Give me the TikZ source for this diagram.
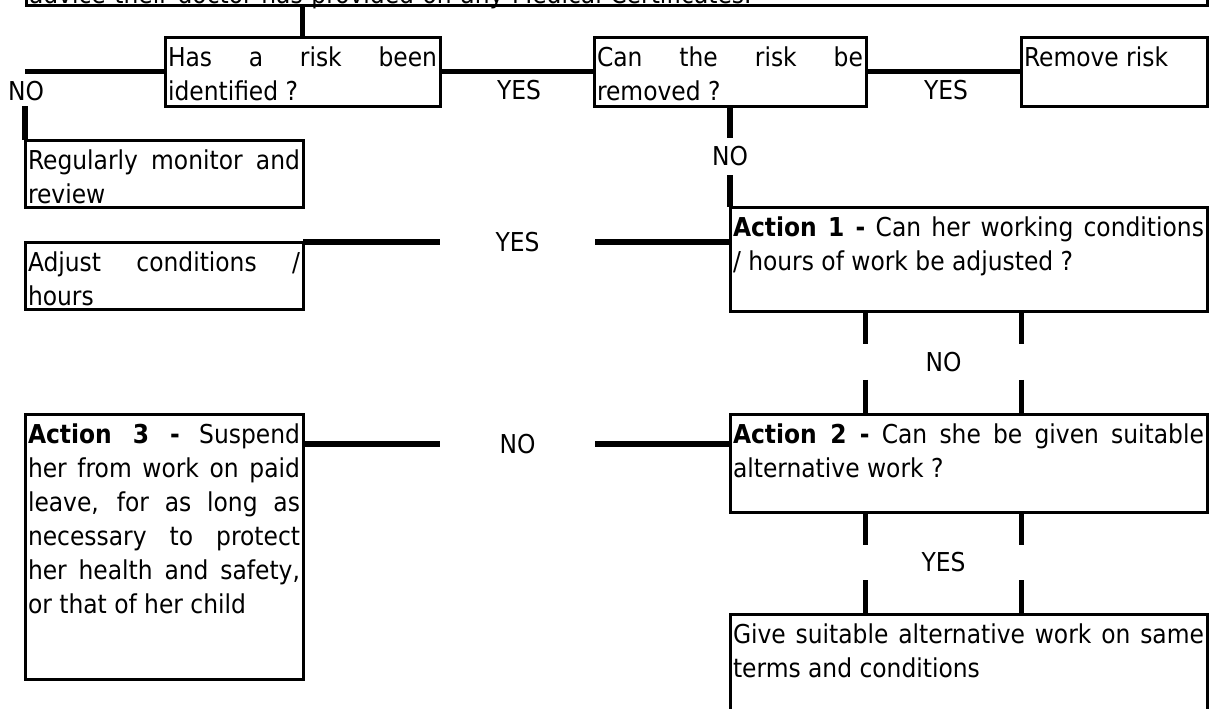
\documentclass[tikz,border=0pt]{standalone}
\usepackage{fontspec}
\setmainfont{DejaVu Sans Condensed}[BoldFont={DejaVu Sans Condensed Bold}]

\tikzset{
  box/.style={draw, line width=1.5pt, anchor=north west, outer sep=0pt,
    inner xsep=1.5pt, inner ysep=0pt, text height=14.5pt, align=justify},
  link/.style={line width=2.6pt},
  answer/.style={inner sep=0pt, minimum width=77.5pt, minimum height=17.5pt},
}

\begin{document}
\begin{tikzpicture}[x=0.5pt, y=-0.5pt, font=\fontsize{13}{17}\selectfont]
	\useasboundingbox (0,0) rectangle (1209,708);
	\clip (0,0) rectangle (1209,708);

	% boxes
	\node[box, anchor=south west, align=left, text width=587.5pt, text height=10pt, text depth=1pt] (top) at (26,5) {advice their doctor has provided on any Medical Certificates.};
	\node[box, text width=134.5pt, text depth=20pt] (risk) at (165,37) {Has a risk been\linebreak identified ?};
	\node[box, text width=133pt, text depth=20pt] (removable) at (594,37) {Can the risk be\linebreak removed ?};
	\node[box, text width=90pt, text depth=20pt] (remove) at (1021,37) {Remove risk};
	\node[box, text width=136pt, text depth=19pt] (monitor) at (25,140) {Regularly monitor and\linebreak review};
	\node[box, text width=235.5pt, text depth=37.5pt] (action1) at (730,207) {\textbf{Action 1 -} Can her working conditions\linebreak / hours of work be adjusted ?};
	\node[box, text width=136pt, text depth=19pt] (adjust) at (25,242) {Adjust conditions /\linebreak hours};
	\node[box, text width=235.5pt, text depth=34.5pt] (action2) at (730,414) {\textbf{Action 2 -} Can she be given suitable\linebreak alternative work ?};
	\node[box, text width=136pt, text depth=118pt] (action3) at (25,414) {\textbf{Action 3 -} Suspend\linebreak her from work on paid\linebreak leave, for as long as\linebreak necessary to protect\linebreak her health and safety,\linebreak or that of her child};
	\node[box, text width=235.5pt, text depth=38.5pt] (altwork) at (730,614) {Give suitable alternative work on same\linebreak terms and conditions};

	% answers
	\node[inner sep=0pt] (noRisk) at (26,91) {NO};
	\node[inner sep=0pt] (yesRisk) at (519,90) {YES};
	\node[inner sep=0pt] (yesRemove) at (946,90) {YES};
	\node[answer, minimum width=0pt, minimum height=18.5pt] (noRemove) at (730,156.5) {NO};
	\node[answer] (yesAdjust) at (517.5,242) {YES};
	\node[answer] (noAlt) at (517.5,444) {NO};
	\node[answer] (noAdjust) at (943.5,362) {NO};
	\node[answer] (yesAlt) at (943.5,562.5) {YES};

	% connectors
	\draw[link] (risk.north) -- (risk.north |- top.south);
	\draw[link] (risk.east) -- (removable.west);
	\draw[link] (removable.east) -- (remove.west);
	\draw[link] (risk.west) -- (risk.west -| monitor.north west);
	\draw[link] (monitor.north west) -- (monitor.north west |- risk.south);
	\draw[link] (removable.south) -- (noRemove.north);
	\draw[link] (noRemove.south) -- (action1.north west);
	\draw[link] (action1.west |- yesAdjust) -- (yesAdjust.east);
	\draw[link] (yesAdjust.west) -- (adjust.north east);
	\draw[link] (action2.west |- noAlt) -- (noAlt.east);
	\draw[link] (noAlt.west) -- (action3.east |- noAlt);
	\foreach \side in {west, east} {
		\draw[link] (action1.south -| noAdjust.\side) -- (noAdjust.north \side);
		\draw[link] (noAdjust.south \side) -- (action2.north -| noAdjust.\side);
		\draw[link] (action2.south -| yesAlt.\side) -- (yesAlt.north \side);
		\draw[link] (yesAlt.south \side) -- (altwork.north -| yesAlt.\side);
	}
\end{tikzpicture}
\end{document}
